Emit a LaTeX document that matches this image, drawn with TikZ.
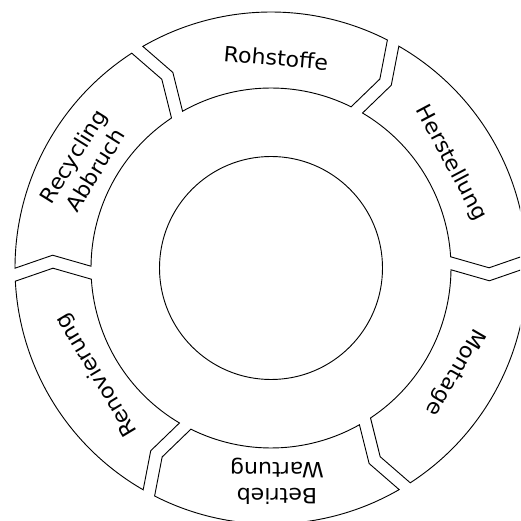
\documentclass[tikz,border=0pt]{standalone}
\usepackage{fontspec}
\setmainfont{DejaVu Sans}[FakeStretch=1.05]
\usepackage{tikz}
\usetikzlibrary{calc}

% Radien und Abstaende des Rings
\newcommand{\rAus}{12.8}
\newcommand{\rIn}{9.0}
\newcommand{\rMit}{10.9}
\newcommand{\spalt}{0.325}
\newcommand{\tief}{0.6}

\tikzset{
    etappe/.style={draw, line width=1.3pt, fill=white},
    etikett/.style={font=\fontsize{30}{37}\selectfont, align=center, inner sep=0pt},
}

\begin{document}
\begin{tikzpicture}[line width=1.3pt]
    \useasboundingbox (-13.55,-12.65) rectangle (12.45,13.4);
    \clip (-13.55,-12.65) rectangle (12.45,13.4);

    % Kreis in der Mitte
    \node[circle, draw, minimum size=11.15cm, inner sep=0pt] (mitte) at (0,0) {};

    % Sechs Etappen: Spitze vorne, Kerbe hinten (im Uhrzeigersinn)
    \foreach \a in {1.5, 61.5, 121.5, 181.5, 241.5, 301.5} {
        \pgfmathsetmacro{\b}{\a+60}
        \draw[etappe]
            ({\a+asin(\spalt/\rAus)}:\rAus)
            arc[start angle={\a+asin(\spalt/\rAus)}, end angle={\b-asin(\spalt/\rAus)}, radius=\rAus]
            -- ($(\b:\rMit)+({\b+90}:{-\spalt-\tief})$)
            -- ({\b-asin(\spalt/\rIn)}:\rIn)
            arc[start angle={\b-asin(\spalt/\rIn)}, end angle={\a+asin(\spalt/\rIn)}, radius=\rIn]
            -- ($(\a:\rMit)+({\a+90}:{\spalt-\tief})$) -- cycle;
    }

    % Beschriftung
    \node[etikett, rotate=-5] (rohstoffe) at (0.25,10.5) {Rohstoffe};
    \node[etikett, rotate=-62] (herstellung) at (9.0,5.25) {Herstellung};
    \node[etikett, rotate=-120] (montage) at (9.2,-5.2) {Montage};
    \node[etikett, rotate=180] (betrieb) at (0.3,-10.65) {Betrieb\\Wartung};
    \node[etikett, rotate=121] (renovierung) at (-8.7,-5.35) {Renovierung};
    \node[etikett, rotate=58] (recycling) at (-9.35,5.25) {Recycling\\Abbruch};
\end{tikzpicture}
\end{document}
